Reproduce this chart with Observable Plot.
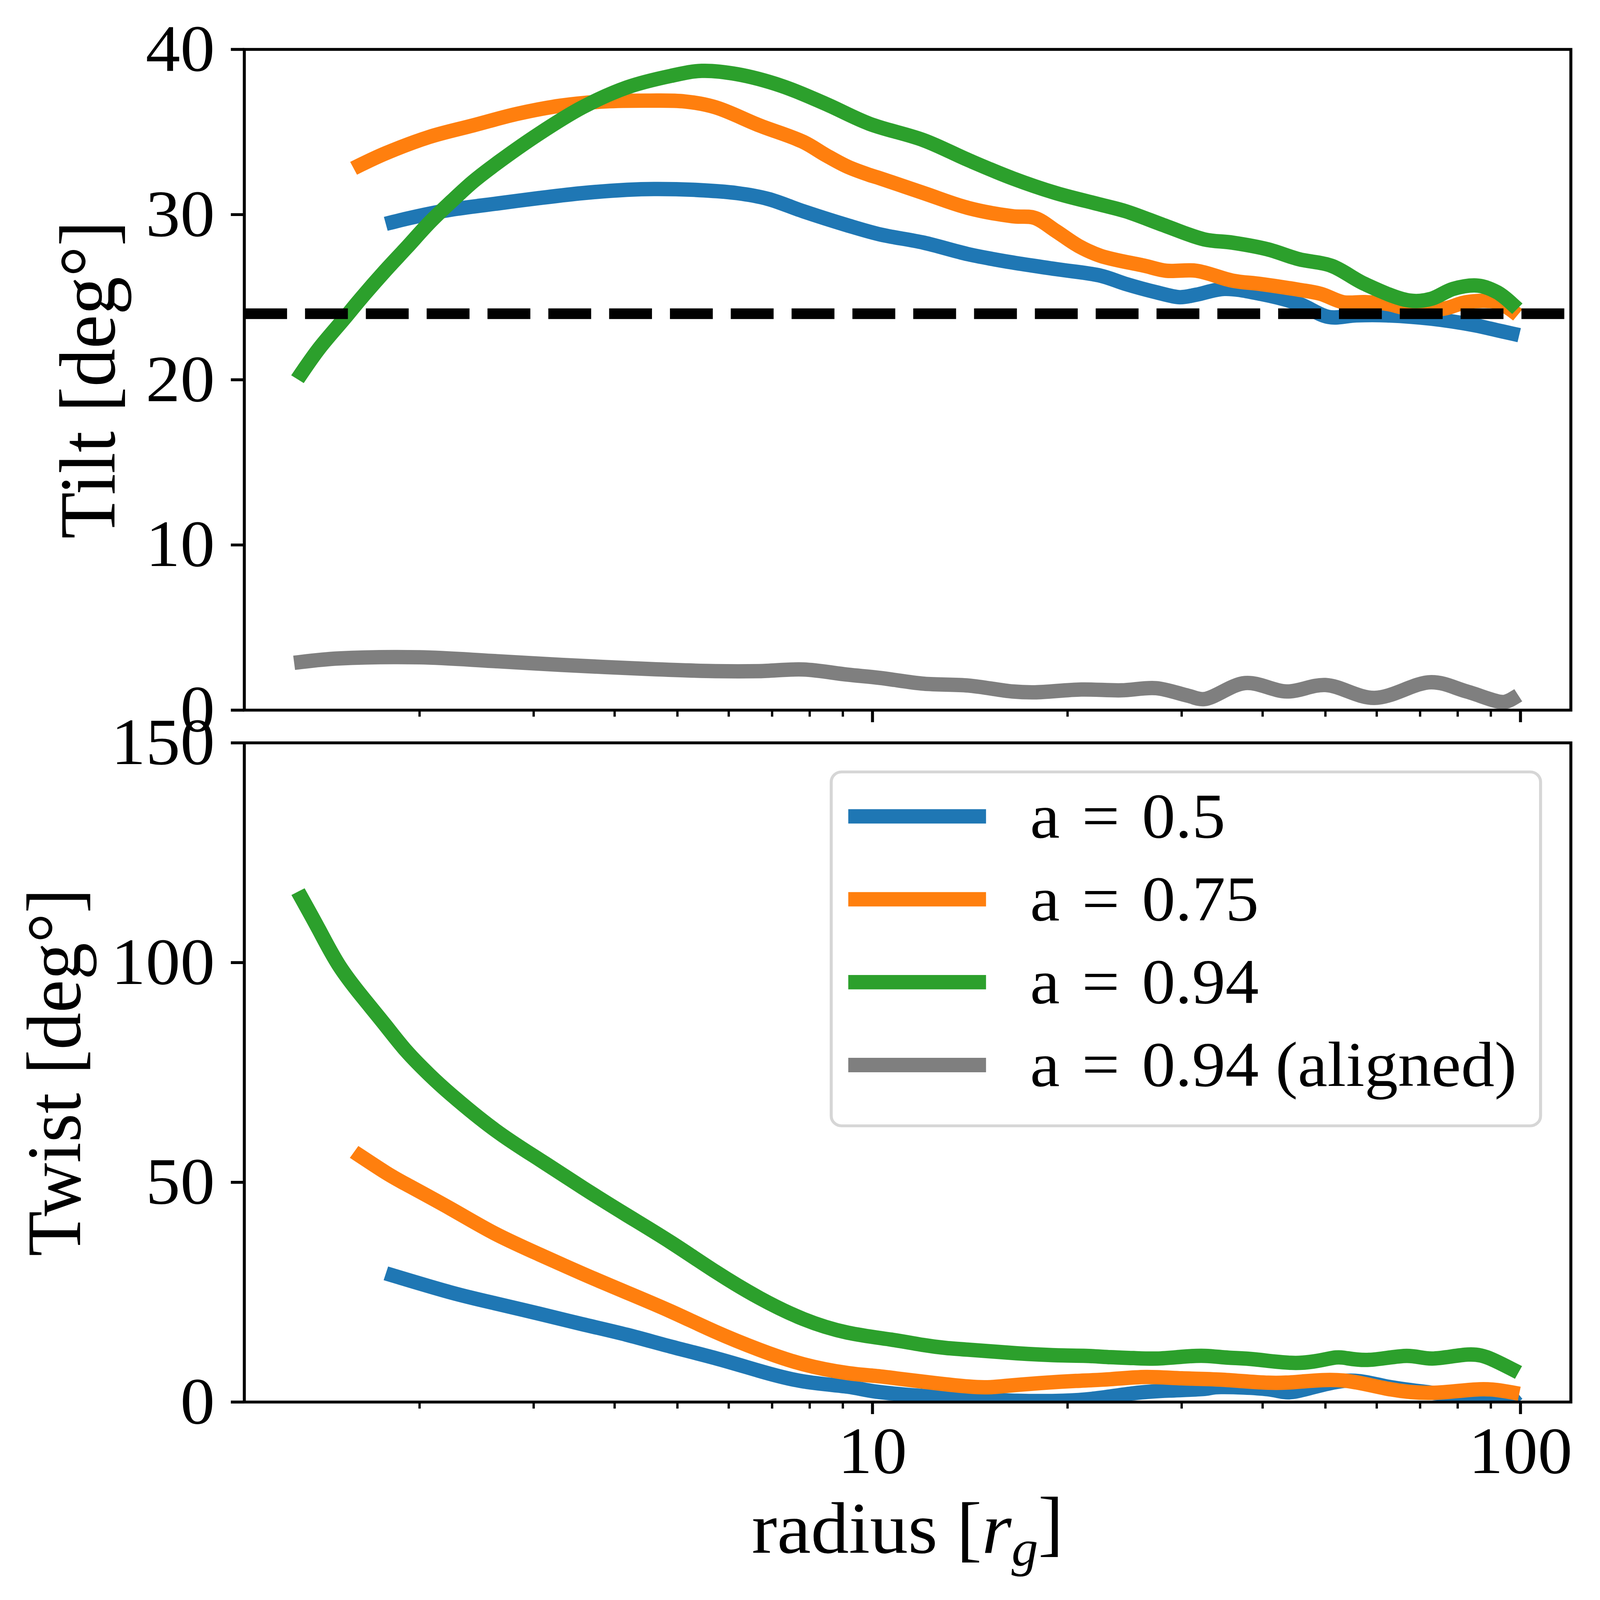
<!DOCTYPE html>
<html><head><meta charset="utf-8">
<script src="https://cdn.jsdelivr.net/npm/d3@7"></script>
<script src="https://cdn.jsdelivr.net/npm/@observablehq/plot@0.6"></script>
<style>
html,body{margin:0;padding:0;background:#fff;overflow:hidden;}
#wrap{position:relative;width:100vw;height:100vh;font-family:"Liberation Serif",serif;}
#wrap svg{position:absolute;left:0;top:0;width:100% !important;height:100% !important;max-width:none !important;}
</style></head><body><div id="wrap"></div>
<script>
// ---- categories / ticks ----
const seriesNames = ["a = 0.5", "a = 0.75", "a = 0.94", "a = 0.94 (aligned)"];
const seriesColors = ["#1f77b4", "#ff7f0e", "#2ca02c", "#7f7f7f"];
const radiusMajorTicks = [10, 100];
const radiusMinorTicks = [2, 3, 4, 5, 6, 7, 8, 9, 20, 30, 40, 50, 60, 70, 80, 90];
const tiltTicks = [0, 10, 20, 30, 40];
const twistTicks = [0, 50, 100, 150];
const tiltReference = 24;

// ---- tilt (top panel) ----
const tiltR_a05 = [1.82,1.91,2.07,2.24,2.61,3.06,3.57,4.18,4.6,5.3,6.18,6.9,7.82,9.15,10.27,12.0,14.06,16.44,19.2,22.5,24.6,27.4,29.8,31.6,34.9,39.7,45.5,50.6,55.8,62.2,72.8,85,92,97];
const tilt_a05  = [29.55,29.75,30.05,30.3,30.65,31.0,31.3,31.5,31.55,31.5,31.3,30.95,30.2,29.35,28.8,28.3,27.6,27.1,26.7,26.3,25.8,25.3,25.0,25.15,25.5,25.2,24.6,23.8,23.9,23.9,23.7,23.3,23.0,22.8];

const tiltR_a075 = [1.62,1.77,2.07,2.42,2.83,3.31,3.87,4.52,5.13,5.72,6.69,7.82,8.47,9.15,9.89,10.27,12.0,14.06,16.44,17.8,19.2,20.8,22.5,26.3,28.4,31.6,35.95,39.7,45.5,49.2,53.2,57.5,62.2,67.3,76,82.6,92,97];
const tilt_a075  = [33.0,33.7,34.7,35.4,36.1,36.6,36.85,36.9,36.85,36.5,35.4,34.4,33.6,32.9,32.4,32.2,31.3,30.4,29.9,29.8,29.0,28.1,27.5,26.9,26.6,26.6,26.0,25.8,25.45,25.2,24.7,24.7,24.6,24.3,24.3,24.7,24.7,24.2];

const tiltR_a094 = [1.315,1.40,1.53,1.63,1.77,1.91,2.07,2.24,2.42,2.61,3.06,3.57,4.18,4.89,5.45,6.18,7.23,8.47,9.89,12.0,14.06,16.44,19.2,22.5,24.6,28.4,32.5,35.95,40.7,45.5,51.1,57.5,67.3,72.8,78.7,86,92,97];
const tilt_a094  = [20.4,21.9,23.7,25.0,26.6,28.0,29.5,30.8,32.0,33.0,34.9,36.5,37.7,38.4,38.7,38.5,37.8,36.7,35.5,34.5,33.3,32.2,31.3,30.6,30.2,29.3,28.5,28.3,27.9,27.3,26.9,25.8,24.8,24.9,25.5,25.7,25.3,24.6];

const tiltR_a094al = [1.315,1.5,2.0,2.61,3.31,4.52,5.72,6.69,7.82,9.15,10.27,12.0,14.06,16.44,17.8,21,24.2,27.4,30.7,32.5,37.6,43.6,50.0,59.5,72.8,82.6,94,97];
const tilt_a094al  = [2.92,3.13,3.2,2.97,2.74,2.49,2.36,2.36,2.46,2.15,1.95,1.6,1.49,1.13,1.08,1.25,1.2,1.33,0.87,0.67,1.64,1.13,1.52,0.74,1.69,1.13,0.49,0.67];

// ---- twist (bottom panel) ----
const twistR_a05 = [1.82,2.24,2.61,3.06,3.57,4.18,4.89,5.72,6.69,7.82,9.15,10.1,11.95,14.1,16.7,19.7,22.3,25.3,28.7,32.6,34.5,40.8,45,53.3,61.9,73.1,79.5,86.4,94,97];
const twist_a05  = [28.8,24.9,22.5,20.1,17.7,15.3,12.6,10.0,7.1,4.7,3.5,2.4,1.4,0.8,0.3,0.3,0.9,2.0,2.6,3.0,3.4,2.9,2.4,4.8,3.6,2.1,1.1,0.3,0.3,1.0];

const twistR_a075 = [1.62,1.77,1.91,2.24,2.61,3.06,3.57,4.18,4.89,5.72,6.69,7.82,9.15,10.1,11,12.5,14.5,16,18.1,20.6,23.3,26.4,30,34.5,40.8,46.2,53.3,61.9,73.1,86.4,97];
const twist_a075  = [56.0,52.3,49.5,43.9,38.4,33.6,29.2,24.9,20.6,16.0,11.9,8.6,6.6,5.95,5.3,4.3,3.4,3.65,4.3,4.8,5.2,5.7,5.4,5.1,4.4,4.7,4.9,3.1,2.1,2.9,2.2];

const twistR_a094 = [1.315,1.40,1.50,1.63,1.77,1.91,2.07,2.24,2.61,3.06,3.57,4.18,4.89,5.72,6.69,7.82,9.15,10.7,11.95,13.0,14.1,15.35,16.7,18.1,19.7,21.4,23.3,25.3,27.5,30,32.6,35.4,39,45,50.3,53.3,58.4,66.7,73.1,82.9,90.1,97];
const twist_a094  = [114.7,107.4,99.5,92.3,85.8,79.8,74.5,69.9,62.0,55.2,48.8,42.5,36.3,29.7,23.7,18.9,15.8,14.2,13.0,12.3,11.9,11.5,11.1,10.8,10.6,10.5,10.2,10.0,9.9,10.3,10.5,10.1,9.7,8.9,9.8,10.1,9.6,10.5,9.9,10.8,9.8,7.5];

// ---- helpers ----
const rows = (rs, vs, s) => rs.map((r, i) => ({r, v: vs[i], s}));
const tiltData = [
  rows(tiltR_a05, tilt_a05, 0), rows(tiltR_a075, tilt_a075, 1),
  rows(tiltR_a094, tilt_a094, 2), rows(tiltR_a094al, tilt_a094al, 3)
];
const twistData = [
  rows(twistR_a05, twist_a05, 0), rows(twistR_a075, twist_a075, 1),
  rows(twistR_a094, twist_a094, 2)
];

const W = 6945, H = 7238;
const FONT = "'Liberation Serif', 'DejaVu Serif', serif";
const xDomain = [1.073, 119.6];
const common = {
  width: W, height: H, marginLeft: 1060, marginRight: 127,
  style: {background: "transparent", fontFamily: FONT, color: "black", overflow: "visible"}
};
const lineMarks = (data, curve) => data.map(d => Plot.line(d, {
  x: "r", y: "v", stroke: seriesColors[d[0].s], strokeWidth: 65,
  strokeLinecap: "square", strokeLinejoin: "round", curve, clip: true
}));
const xTickAxes = (labels) => [
  Plot.axisX({ticks: radiusMajorTicks, tickSize: 55, tickPadding: 54, strokeWidth: 13,
    fontSize: 300, label: null, tickFormat: labels ? (d => String(d)) : (() => "")}),
  Plot.axisX({ticks: radiusMinorTicks, tickSize: 30, strokeWidth: 10, label: null, tickFormat: () => ""})
];

const topPlot = Plot.plot({
  ...common,
  marginTop: 223, marginBottom: H - 3212,
  x: {type: "log", domain: xDomain},
  y: {domain: [0, 40]},
  marks: [
    ...lineMarks(tiltData, "catmull-rom"),
    Plot.ruleY([tiltReference], {stroke: "black", strokeWidth: 48, strokeDasharray: "186,78"}),
    Plot.frame({stroke: "black", strokeWidth: 13}),
    Plot.axisY({ticks: tiltTicks, tickSize: 58, tickPadding: 70, strokeWidth: 13, fontSize: 300, label: null}),
    ...xTickAxes(false),
    Plot.text(["Tilt [deg°]"], {frameAnchor: "left", dx: -563, rotate: -90, lineAnchor: "bottom",
      textAnchor: "middle", fontSize: 345, text: d => d})
  ]
});

const bottomPlot = Plot.plot({
  ...common,
  marginTop: 3360, marginBottom: H - 6342,
  x: {type: "log", domain: xDomain},
  y: {domain: [0, 150]},
  marks: [
    ...lineMarks(twistData, "natural"),
    Plot.frame({stroke: "black", strokeWidth: 13}),
    Plot.axisY({ticks: twistTicks, tickSize: 58, tickPadding: 70, strokeWidth: 13, fontSize: 300, label: null}),
    ...xTickAxes(true),
    Plot.text(["Twist [deg°]"], {frameAnchor: "left", dx: -713, rotate: -90, lineAnchor: "bottom",
      textAnchor: "middle", fontSize: 335, text: d => d}),
    Plot.text(["radius [rg]"], {frameAnchor: "bottom", dy: 682, lineAnchor: "bottom",
      textAnchor: "middle", fontSize: 330, text: d => d})
  ]
});

const wrap = document.getElementById("wrap");
for (const svg of [topPlot, bottomPlot]) {
  svg.setAttribute("preserveAspectRatio", "none");
  wrap.appendChild(svg);
}

// italic r with subscript g in the x label
d3.select(bottomPlot).selectAll("text").filter(function() { return this.textContent === "radius [rg]"; })
  .each(function() {
    const t = d3.select(this);
    t.text("");
    t.append("tspan").text("radius [");
    t.append("tspan").attr("font-style", "italic").text("r");
    t.append("tspan").attr("font-style", "italic").attr("font-size", "70%").attr("dy", "0.25em").text("g");
    t.append("tspan").attr("dy", "-0.25em").text("]");
  });

// legend (inside lower panel, upper right)
const leg = d3.create("svg").attr("width", W).attr("height", H)
  .attr("viewBox", `0 0 ${W} ${H}`).attr("preserveAspectRatio", "none").style("font-family", FONT);
leg.append("rect").attr("x", 3608).attr("y", 3492).attr("width", 3079).attr("height", 1601)
  .attr("rx", 45).attr("fill", "white").attr("fill-opacity", 0.8)
  .attr("stroke", "#d6d6d6").attr("stroke-width", 13);
seriesNames.forEach((name, i) => {
  const cy = 3693 + i * 375;
  leg.append("line").attr("x1", 3682).attr("x2", 4280).attr("y1", cy).attr("y2", cy)
    .attr("stroke", seriesColors[i]).attr("stroke-width", 65);
  leg.append("text").attr("x", 4471).attr("y", cy + 95).attr("font-size", 290)
    .attr("fill", "black").text(name.replace(/ = /, "\u2004=\u2004"));
});
wrap.appendChild(leg.node());
</script>
</body></html>
